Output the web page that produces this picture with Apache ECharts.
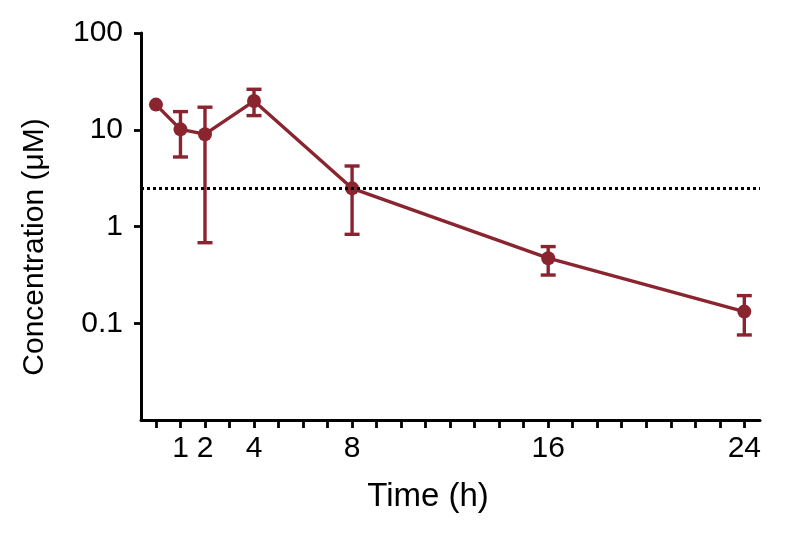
<!DOCTYPE html>
<html>
<head>
<meta charset="utf-8">
<script src="https://cdn.jsdelivr.net/npm/echarts@6/dist/echarts.min.js"></script>
<style>
html,body{margin:0;padding:0;background:#fff;}
#chart{width:787px;height:539px;}
</style>
</head>
<body>
<div id="chart"></div>
<script>
const times = [0, 1, 2, 4, 8, 16, 24];
const means = [18.2, 10.1, 9.0, 19.8, 2.48, 0.47, 0.132];
const errLow = [null, 5.23, 0.68, 14.0, 0.83, 0.315, 0.0757];
const errHigh = [null, 15.4, 17.1, 26.2, 4.22, 0.62, 0.193];
const threshold = 2.47;
const xTickValues = [0,1,2,3,4,5,6,7,8,9,10,11,12,13,14,15,16,17,18,19,20,21,22,23,24];
const xLabelValues = [1, 2, 4, 8, 16, 24];
const yLabelValues = [0.1, 1, 10, 100];

const RED = '#8a2530';
const FONT = '"Liberation Sans", Arial, Helvetica, sans-serif';

const errData = times.map((t, i) => [t, errLow[i], errHigh[i]]).filter(d => d[1] != null);

const chart = echarts.init(document.getElementById('chart'), null, {renderer: 'canvas'});
chart.setOption({
  animation: false,
  backgroundColor: '#fff',
  grid: {left: 141, right: 27, top: 33, bottom: 119, containLabel: false},
  xAxis: {
    type: 'value', min: -0.61, max: 24.64,
    axisLine: {show: true, onZero: false, lineStyle: {color: '#000', width: 3}},
    axisTick: {show: true, length: 8, lineStyle: {color: '#000', width: 2.8}, customValues: xTickValues},
    axisLabel: {customValues: xLabelValues, margin: 14, fontSize: 30, color: '#000', fontFamily: FONT},
    splitLine: {show: false}
  },
  yAxis: {
    type: 'log', min: 0.01, max: 100, logBase: 10,
    axisLine: {show: true, onZero: false, lineStyle: {color: '#000', width: 3}},
    axisTick: {show: true, length: 7, lineStyle: {color: '#000', width: 2.8}, customValues: yLabelValues},
    axisLabel: {customValues: yLabelValues, margin: 18, fontSize: 30, color: '#000', fontFamily: FONT,
      formatter: v => String(+(+v).toPrecision(3))},
    minorTick: {show: false},
    splitLine: {show: false}
  },
  graphic: [
    {type: 'text', x: 35, y: 247, rotation: Math.PI / 2,
      style: {text: 'Concentration (\u03bcM)', fontSize: 30, fontFamily: FONT, fill: '#000', align: 'center', verticalAlign: 'middle'}},
    {type: 'text', x: 428, y: 497,
      style: {text: 'Time (h)', fontSize: 33, fontFamily: FONT, fill: '#000', align: 'center', verticalAlign: 'middle'}}
  ],
  series: [
    {
      type: 'custom',
      data: errData,
      z: 3,
      renderItem: function (params, api) {
        const x = api.value(0);
        const lo = api.coord([x, api.value(1)]);
        const hi = api.coord([x, api.value(2)]);
        const hw = 7.5;
        const st = {stroke: RED, lineWidth: 3.4};
        return {type: 'group', children: [
          {type: 'line', shape: {x1: lo[0], y1: lo[1], x2: hi[0], y2: hi[1]}, style: st},
          {type: 'line', shape: {x1: lo[0] - hw, y1: lo[1], x2: lo[0] + hw, y2: lo[1]}, style: st},
          {type: 'line', shape: {x1: hi[0] - hw, y1: hi[1], x2: hi[0] + hw, y2: hi[1]}, style: st}
        ]};
      }
    },
    {
      type: 'line',
      data: times.map((t, i) => [t, means[i]]),
      symbol: 'circle', symbolSize: 14,
      z: 4,
      lineStyle: {color: RED, width: 3.4},
      itemStyle: {color: RED},
      markLine: {
        silent: true, symbol: 'none', label: {show: false},
        lineStyle: {color: '#000', type: [3, 3], width: 3},
        data: [{yAxis: threshold}]
      }
    }
  ]
});
</script>
</body>
</html>
